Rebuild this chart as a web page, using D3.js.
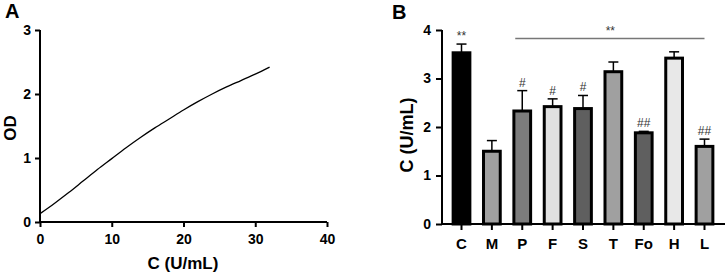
<!DOCTYPE html>
<html>
<head>
<meta charset="utf-8">
<script src="https://cdn.jsdelivr.net/npm/d3@7"></script>
<style>
  body { margin: 0; background: #fff; }
  svg text { font-family: 'Liberation Sans', Arial, sans-serif; }
</style>
</head>
<body>
<div id="chart"></div>
<script>
// panel A: standard curve
const concTicks = [0, 10, 20, 30, 40]
const odTicks = [0, 1, 2, 3]
const curveConc = [0, 2, 4, 6, 8, 10, 12, 14, 16, 18, 20, 22, 24, 26, 28, 30, 32]
const curveOD = [0.13, 0.29, 0.46, 0.64, 0.82, 0.99, 1.16, 1.32, 1.47, 1.61, 1.75, 1.88, 2.00, 2.11, 2.21, 2.31, 2.42]

// panel B: groups
const groups = ['C', 'M', 'P', 'F', 'S', 'T', 'Fo', 'H', 'L']
const means = [3.53, 1.50, 2.33, 2.42, 2.38, 3.14, 1.88, 3.42, 1.60]
const errors = [0.18, 0.22, 0.42, 0.16, 0.27, 0.20, 0.03, 0.13, 0.15]
const fills = ['#000000', '#a0a0a0', '#7c7c7c', '#e0e0e0', '#5f5f5f', '#a0a0a0', '#5f5f5f', '#e8e8e8', '#a0a0a0']
const marks = ['**', '', '#', '#', '#', '', '##', '', '##']
const cTicks = [0, 1, 2, 3, 4]

const width = 726, height = 276

const svg = d3.select('#chart')
  .append('svg')
  .attr('width', width)
  .attr('height', height)

// restyle what d3.axis drew: explicit strokes, no inherited fill="none" / opacity
const styleAxis = (g, orient, size, [r0, r1]) => {
  const bottom = orient === 'bottom'
  g.attr('fill', null).attr('font-size', null).attr('font-family', null)
  g.select('.domain')
    .attr('d', bottom ? `M${r0},0L${r1},0` : `M0,${r0}L0,${r1}`)
    .attr('fill', 'none')
    .attr('stroke', '#000').attr('stroke-width', 2)
    .attr('class', 'axis-line')
  g.selectAll('.tick line')
    .attr('x1', 0).attr('y1', 0)
    .attr('x2', bottom ? 0 : -size).attr('y2', bottom ? size : 0)
    .attr('stroke', '#000').attr('stroke-width', 2)
  g.selectAll('.tick text').attr('font-weight', 'bold').attr('font-size', 14).attr('fill', '#000')
  g.selectAll('.tick').attr('opacity', null).attr('class', 'axis-tick')
}

// ---------- A ----------
const xA = d3.scaleLinear().domain([0, 40]).range([40, 327])
const yA = d3.scaleLinear().domain([0, 3]).range([222, 30])

svg.append('g')
  .attr('transform', `translate(0,${yA(0)})`)
  .call(d3.axisBottom(xA).tickValues(concTicks).tickSize(5).tickPadding(7).tickSizeOuter(0))
  .call(styleAxis, 'bottom', 5, [39, 327])

svg.append('g')
  .attr('transform', `translate(${xA(0)},0)`)
  .call(d3.axisLeft(yA).tickValues(odTicks).tickFormat(d3.format('d')).tickSize(5).tickPadding(4).tickSizeOuter(0))
  .call(styleAxis, 'left', 5, [yA(0) + 1, yA(3)])

svg.append('path')
  .datum(curveConc.map((c, i) => [c, curveOD[i]]))
  .attr('fill', 'none')
  .attr('stroke', '#000')
  .attr('stroke-width', 1.3)
  .attr('d', d3.line().x(d => xA(d[0])).y(d => yA(d[1])).curve(d3.curveMonotoneX))

svg.append('text')
  .attr('x', 183).attr('y', 269)
  .attr('text-anchor', 'middle')
  .attr('font-weight', 'bold').attr('font-size', 17)
  .text('C (U/mL)')

svg.append('text')
  .attr('transform', `translate(16,128) rotate(-90)`)
  .attr('text-anchor', 'middle')
  .attr('font-weight', 'bold').attr('font-size', 17)
  .text('OD')

svg.append('text')
  .attr('x', 5).attr('y', 18)
  .attr('font-weight', 'bold').attr('font-size', 20)
  .text('A')

// ---------- B ----------
const xB = d3.scaleBand().domain(groups).range([441, 725]).paddingInner(0.35).paddingOuter(0.35)
const yB = d3.scaleLinear().domain([0, 4]).range([224, 30])

svg.append('g')
  .attr('transform', `translate(0,${yB(0)})`)
  .call(d3.axisBottom(xB).tickSize(6).tickPadding(8).tickSizeOuter(0))
  .call(styleAxis, 'bottom', 6, [441, 725])
  .call(g => g.selectAll('text').attr('font-size', 15))

svg.append('g')
  .attr('transform', `translate(442,0)`)
  .call(d3.axisLeft(yB).tickValues(cTicks).tickFormat(d3.format('d')).tickSize(6).tickPadding(5).tickSizeOuter(0))
  .call(styleAxis, 'left', 6, [yB(0) + 1, yB(4)])

const data = groups.map((g, i) => ({ g, v: means[i], e: errors[i], fill: fills[i], mark: marks[i] }))

const bar = svg.append('g').selectAll('g')
  .data(data)
  .join('g')
  .attr('transform', d => `translate(${xB(d.g)},0)`)

const bw = xB.bandwidth()

bar.append('line')
  .attr('x1', bw / 2).attr('x2', bw / 2)
  .attr('y1', d => yB(d.v)).attr('y2', d => yB(d.v + d.e))
  .attr('stroke', '#000').attr('stroke-width', 1.5)

bar.append('line')
  .attr('x1', bw / 2 - 5).attr('x2', bw / 2 + 5)
  .attr('y1', d => yB(d.v + d.e)).attr('y2', d => yB(d.v + d.e))
  .attr('stroke', '#000').attr('stroke-width', 1.5)

bar.append('rect')
  .attr('x', 1.5)
  .attr('width', bw - 3)
  .attr('y', d => yB(d.v))
  .attr('height', d => yB(0) - yB(d.v))
  .attr('fill', d => d.fill)
  .attr('stroke', '#000')
  .attr('stroke-width', 3)

bar.append('text')
  .attr('x', bw / 2)
  .attr('y', d => yB(d.v + d.e) - 4)
  .attr('text-anchor', 'middle')
  .attr('font-size', 12)
  .attr('fill', '#333')
  .text(d => d.mark)

// significance bracket over P..L
svg.append('line')
  .attr('x1', xB('P') + bw / 2 - 7).attr('x2', xB('L') + bw / 2)
  .attr('y1', 38.5).attr('y2', 38.5)
  .attr('stroke', '#777').attr('stroke-width', 1.3)

svg.append('text')
  .attr('x', (xB('P') + xB('L') + bw) / 2 - 3)
  .attr('y', 35)
  .attr('text-anchor', 'middle')
  .attr('font-size', 12)
  .attr('fill', '#333')
  .text('**')

svg.append('text')
  .attr('transform', `translate(413,135) rotate(-90)`)
  .attr('text-anchor', 'middle')
  .attr('font-weight', 'bold').attr('font-size', 18)
  .text('C (U/mL)')

svg.append('text')
  .attr('x', 392).attr('y', 19)
  .attr('font-weight', 'bold').attr('font-size', 20)
  .text('B')
</script>
</body>
</html>
